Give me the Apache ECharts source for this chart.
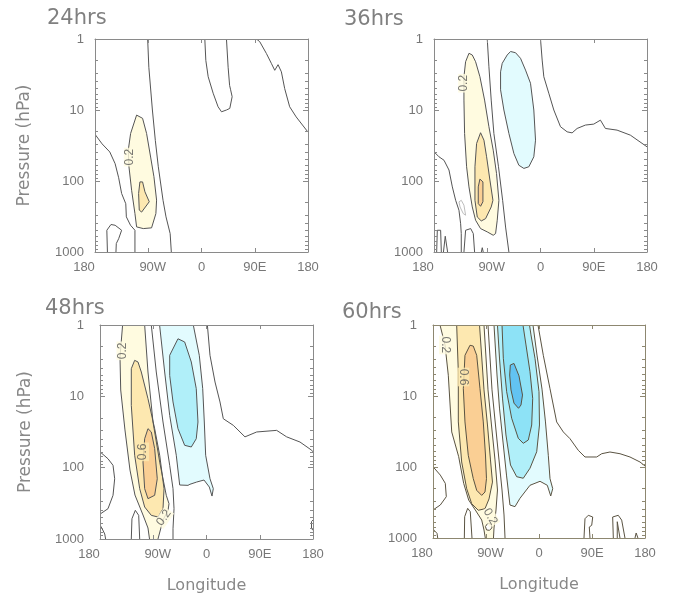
<!DOCTYPE html>
<html><head><meta charset="utf-8">
<script src="https://cdn.jsdelivr.net/npm/echarts@6/dist/echarts.min.js"></script>
<style>html,body{margin:0;padding:0;background:#fff}#c{width:677px;height:597px}</style>
</head><body><div id="c"></div>
<script>
// ---------- axis data ----------
const LON_TICKS = [-180, -90, 0, 90, 180];
const LON_LABELS = ['180', '90W', '0', '90E', '180'];
const P_MAJOR = [1, 10, 100, 1000];
const P_MINOR = [2,3,4,5,6,7,8,9,20,30,40,50,60,70,80,90,200,300,400,500,600,700,800,900];
const TITLES = ['24hrs', '36hrs', '48hrs', '60hrs'];

// ---------- contours: [longitude, pressure hPa] ----------
// 24hrs
const p24_pos2 = [[-109.7,11.8],[-119.8,21.4],[-123.8,36.8],[-122.6,63],[-118.1,135],[-112.5,288],[-109.7,443],[-98.4,468],[-84.4,457],[-77.1,288],[-75.9,186],[-80.4,87],[-86,46],[-92.8,21.4],[-99.6,13.1]];
const p24_pos4 = [[-104.1,103],[-106.3,150],[-105.2,257],[-101.2,274],[-88.3,196],[-95.6,142],[-99.6,103]];
const p24_zero_a = [[-91,1],[-89,2.5],[-83,10],[-78,27],[-73,63],[-65,187],[-60,320],[-53,550],[-51,1000]];
const p24_zero_b = [[-180,22],[-168,30],[-155,39],[-146,57],[-140,90],[-135,150],[-128,209],[-127,320],[-120,420],[-112.5,494],[-112.5,1000]];
const p24_zero_c = [[-159,1000],[-160,494],[-153,410],[-146,420],[-135,494],[-140,650],[-144,760],[-144.6,1000]];
const p24_zero_d = [[5.6,1],[7.3,2],[11.3,3.4],[19.7,5.8],[28,9],[33.8,10.6],[42.2,10],[47.8,9.5],[51.8,6.5],[49,5.1],[47.5,4.5],[45,2.5],[42.2,1]];
const p24_zero_e = [[92.8,1],[98.4,1.09],[109.7,1.6],[118,2.2],[123.8,2.76],[129.4,2.3],[135,2.9],[140.6,5],[149,9],[160,12.5],[180,20.5]];
const p24_labels = [[-121,46,'0.2']];

// 36hrs
const p36_pos2 = [[-120.9,1.59],[-126.6,2.09],[-129.4,3.4],[-129.4,7.25],[-128.3,21.4],[-124.9,63],[-120.9,121],[-115.3,232],[-109.7,357],[-101.3,468],[-90,521],[-79.9,581],[-75.9,550],[-73.1,357],[-70.3,187],[-74.3,78.5],[-79.9,36.8],[-87.2,17.2],[-94.5,7.25],[-102.4,3.4],[-109.7,2.09],[-115.3,1.68]];
const p36_pos4 = [[-101.3,20.9],[-108,29.6],[-110.8,63],[-110.8,187],[-106.9,321],[-100.1,365],[-92.8,339],[-83.3,232],[-80.4,187],[-85.5,97],[-91.1,45.6],[-95.6,26.6]];
const p36_pos6 = [[-102.4,94],[-105.2,121],[-105.2,208],[-101.3,227],[-97.3,196],[-97.3,103]];
const p36_neg2 = [[-67.5,2.9],[-64.7,2.2],[-56.3,1.68],[-50.6,1.5],[-42.2,1.56],[-33.8,1.87],[-25.3,2.74],[-16.9,4.2],[-11.3,10],[-8.4,26.6],[-11.3,45.6],[-19.7,63],[-28.1,66.5],[-36.6,60],[-45,41],[-53.4,21.4],[-61.9,10],[-67.5,5.2]];
const p36_zero_a = [[-90,1],[-87.2,2.46],[-83.3,7.25],[-78.8,21.4],[-71,63],[-64,187],[-59,445],[-53.4,1000]];
const p36_zero_b = [[0,1],[2.8,1.98],[5.6,3.4],[14,5.8],[22.5,10],[33.8,17.2],[45,20.3],[53.4,21],[61.9,18.2],[75.9,16.3],[90,15.8],[101.3,13.9],[109.7,18.2],[129.4,19.2],[151.9,22.6],[180,33]];
const p36_zero_c = [[-180,38.8],[-171.6,45.6],[-163.1,51],[-154.7,70],[-149,121],[-143.4,187],[-137.8,258],[-135,400],[-133.9,550],[-133.9,1000]];
const p36_zero_d = [[-129.4,1000],[-126.6,494],[-118,468],[-113.6,550],[-111.4,1000]];
const p36_zero_e = [[-175.5,1000],[-174.4,494],[-168.8,494],[-167.6,1000]];
const p36_zero_f = [[-164,1000],[-161,600],[-157,1000]];
const p36_zero_g = [[-100,1000],[-98.4,870],[-96.8,1000]];
const p36_gray = [[-137.8,197],[-133.9,187],[-129.4,219],[-126.6,303],[-130.5,288],[-136,232]];
const p36_labels = [[-129,4.2,'0.2']];

// 48hrs
const p48_pos2 = [[-141.8,1],[-146.2,2.81],[-145,8.15],[-137.8,29.6],[-129.3,108],[-120.9,242],[-107.3,461],[-98.9,701],[-96.3,1000],[-82,1000],[-73.5,542],[-65,398],[-63.4,320],[-68,244],[-79.1,83.6],[-90.4,22.9],[-98.9,4.56],[-104.5,1]];
const p48_pos4 = [[-121.4,3.13],[-127.1,4.1],[-127.1,13.4],[-121.4,67],[-112.9,197],[-104.5,356],[-93.3,466],[-82,492],[-73.5,376],[-71.8,197],[-79.1,67],[-87.6,28.4],[-98.9,10.8],[-110.2,4.56],[-115.8,3.3]];
const p48_pos6 = [[-98.9,28.4],[-104.5,39.3],[-107.3,83.4],[-104.5,197],[-98.9,272],[-87.6,244],[-83.2,143],[-87.6,54],[-93.3,31.6]];
const p48_neg2 = [[-79.3,1],[-70.7,4.56],[-62.2,18.5],[-51.1,67],[-45.3,175],[-31.3,177],[-28,171],[-16.6,159],[-4.2,149],[4.8,187],[9.3,250],[11.5,197],[5.9,143],[-1.4,67],[-3.7,22.9],[-6.4,7.8],[-12.2,2.66],[-22.3,1]];
const p48_neg4 = [[-62.2,2.66],[-48.2,1.56],[-36.9,1.73],[-25.7,3.3],[-17.3,7.8],[-14.4,22.9],[-17.3,39.3],[-25.7,51.3],[-36.9,48.6],[-48.2,28.4],[-56.6,12],[-62.2,5.1]];
const p48_zero_a = [[-93.3,1],[-84.9,4.56],[-73.5,22.9],[-62.2,92.7],[-56.6,197],[-54.9,376],[-56.6,718],[-56.6,1000]];
const p48_zero_b = [[1.5,1],[5.9,2.66],[14.4,6.3],[22.8,12],[28.4,20.6],[45.3,25.5],[65,37],[84.8,31.6],[118.6,30],[135.5,37],[158,43.7],[177.8,57],[180,60]];
const p48_zero_c = [[-180,60],[-166.5,75],[-158,92.7],[-155.2,143],[-158,244],[-166.5,376],[-178.9,442],[-180,450]];
const p48_zero_d = [[-180,640],[-177,700],[-172,850],[-170.5,1000]];
const p48_zero_e = [[-127.1,1000],[-126,520],[-120.3,396],[-114.6,466],[-112.9,1000]];
const p48_zero_f = [[180,540],[177.5,570],[177.5,720],[180,750]];
const p48_labels = [[-142,2.3,'0.2'],[-107.3,60,'0.6'],[-72,505,'0.2']];

// 60hrs
const p60_pos2 = [[-168.1,1],[-159.6,1.91],[-154,5.1],[-148.2,32.1],[-136.4,71.6],[-127.9,170],[-119.4,292],[-108.2,403],[-97.3,558],[-93.4,771],[-91.2,1000],[-77.3,1000],[-76.4,723],[-73,403],[-70.5,211],[-74.7,79.6],[-80.7,25.6],[-86.6,8.2],[-93.4,1]];
const p60_pos4 = [[-139.8,1],[-137,4.6],[-137,23.2],[-131.3,85],[-122.8,202],[-114.3,329],[-103.1,407],[-91.7,387],[-84.9,282],[-79,163],[-82.4,79.6],[-87.5,25.6],[-93.4,8.2],[-101,1]];
const p60_pos6 = [[-117.2,1.93],[-125.7,2.67],[-128.5,7.9],[-125.7,23.2],[-120.1,68.4],[-111.6,146],[-105.8,213],[-97.3,251],[-91.7,225],[-89.2,146],[-90.9,67.8],[-94.6,23.2],[-100.2,7.9],[-105.8,2.67],[-111.6,1.98]];
const p60_hole = [[-91,690],[-87,620],[-81,640],[-80,720],[-84,780],[-89,770]];
const p60_neg2 = [[-76.4,1],[-71.3,5.06],[-67.1,14.8],[-61.1,44.5],[-55.2,130],[-49.3,343],[-40.8,362],[-32.3,276],[-15.3,181],[1.7,159],[14.1,181],[19.9,256],[23.3,202],[18.7,146],[15.8,68.4],[11,23.2],[5.1,8],[-3.4,2.65],[-10.2,1]];
const p60_neg4 = [[-70.5,1],[-67.1,2.92],[-62,10.7],[-56.1,35.4],[-48.4,93.7],[-37.9,137],[-26.7,144],[-15.3,104],[-3.9,61],[0.8,25.6],[0,8.7],[-6.8,2.94],[-13.6,1.38],[-16.1,1]];
const p60_neg6 = [[-62.8,1],[-60.6,2.94],[-54.9,8.7],[-46.4,20.6],[-35.2,39.4],[-26.7,46.4],[-18.2,41.7],[-12.4,25.6],[-10.7,10.8],[-15.3,4.55],[-22.1,1.91],[-27.2,1]];
const p60_neg8 = [[-48.7,3.66],[-42.5,3.48],[-34,5.2],[-28,9.7],[-30.6,13.4],[-34.8,14.9],[-42.5,12.6],[-47.6,8.2],[-49.8,5.06]];
const p60_zero_a = [[-86.6,1],[-79.8,8.2],[-73.9,25.6],[-67.9,79.6],[-62.8,211],[-59.4,474],[-57.7,1000]];
const p60_zero_b = [[-1.7,1],[7.3,2.67],[18.7,7.9],[30,23.2],[41.3,32.1],[52.6,39.9],[66.7,58.2],[78.1,72.3],[98,72.3],[106.5,65],[120.5,61.5],[137.5,65],[154.5,72.3],[171.5,85],[180,96.8]];
const p60_zero_c = [[-180,99],[-167.6,130],[-159.1,170],[-157.4,262],[-167.6,343],[-180,403]];
const p60_zero_d = [[-180,710],[-178.8,771],[-173.2,859],[-172,1000]];
const p60_zero_e = [[-126.8,1000],[-126.2,501],[-121.1,382],[-116.7,426],[-113.8,1000]];
const p60_zero_f = [[76.4,1000],[78.1,535],[83.7,479],[91.2,506],[89.5,662],[85.4,700],[86.6,1000]];
const p60_zero_g = [[126.2,1000],[125.1,506],[134.6,479],[140.4,560],[146,1000]];
const p60_zero_h = [[132.9,1000],[132.9,590],[137.5,1000]];
const p60_zero_i = [[163,1000],[165,850],[168,1000]];
const p60_labels = [[-159.6,1.91,'0.2'],[-128.5,5.4,'0.6'],[-82.7,500,'0.2']];

// ---------- styles ----------
const COL = {p2:'#FFFBE0', p4:'#FDE8B0', p6:'#FACF94', n2:'#E2FBFE', n4:'#B0EFF9', n6:'#8DE2F6', n8:'#62C3F2', hole:'#FFFFFF'};
const LINE = ['#555555','#555555','#555555','#5a5342'];
const FRAME = ['#8a8a8a','#8a8a8a','#8a8a8a','#8d8770'];
const GRIDS = [
  {left:95, top:39, width:213, height:213},
  {left:434, top:39, width:213, height:213},
  {left:100, top:325, width:213, height:214},
  {left:433, top:325, width:212, height:213}
];
const TITLE_POS = [[47,8],[344,9],[45,298],[342,302]];
const LABEL_ROT = [[90],[90],[90,90,55],[-90,-90,-60]];
const LABEL_BG = [[COL.p2],[COL.p2],[COL.p2,COL.p4,COL.p2],[COL.p2,COL.p4,COL.p2]];

const PANELS = [
  {contours:[
    {pts:p24_pos2, fill:COL.p2, closed:true},
    {pts:p24_pos4, fill:COL.p4, closed:true},
    {pts:p24_zero_a},{pts:p24_zero_b},{pts:p24_zero_c},{pts:p24_zero_d},{pts:p24_zero_e}
  ], labels:p24_labels},
  {contours:[
    {pts:p36_pos2, fill:COL.p2, closed:true},
    {pts:p36_pos4, fill:COL.p4, closed:true},
    {pts:p36_pos6, fill:COL.p6, closed:true},
    {pts:p36_neg2, fill:COL.n2, closed:true},
    {pts:p36_zero_a},{pts:p36_zero_b},{pts:p36_zero_c},{pts:p36_zero_d},{pts:p36_zero_e},{pts:p36_zero_f},{pts:p36_zero_g},
    {pts:p36_gray, closed:true, stroke:'#bdbdbd'}
  ], labels:p36_labels},
  {contours:[
    {pts:p48_pos2, fill:COL.p2, closed:true},
    {pts:p48_pos4, fill:COL.p4, closed:true},
    {pts:p48_pos6, fill:COL.p6, closed:true},
    {pts:p48_neg2, fill:COL.n2, closed:true},
    {pts:p48_neg4, fill:COL.n4, closed:true},
    {pts:p48_zero_a},{pts:p48_zero_b},{pts:p48_zero_c},{pts:p48_zero_d},{pts:p48_zero_e},{pts:p48_zero_f}
  ], labels:p48_labels},
  {contours:[
    {pts:p60_pos2, fill:COL.p2, closed:true},
    {pts:p60_pos4, fill:COL.p4, closed:true},
    {pts:p60_pos6, fill:COL.p6, closed:true},
    {pts:p60_hole, fill:COL.hole, closed:true},
    {pts:p60_neg2, fill:COL.n2, closed:true},
    {pts:p60_neg4, fill:COL.n4, closed:true},
    {pts:p60_neg6, fill:COL.n6, closed:true},
    {pts:p60_neg8, fill:COL.n8, closed:true},
    {pts:p60_zero_a},{pts:p60_zero_b},{pts:p60_zero_c},{pts:p60_zero_d},{pts:p60_zero_e},
    {pts:p60_zero_f},{pts:p60_zero_g},{pts:p60_zero_h},{pts:p60_zero_i}
  ], labels:p60_labels}
];

// ---------- helpers ----------
function edgesOf(p){
  const e = [];
  if (p[0] <= -180) e.push('L');
  if (p[0] >= 180) e.push('R');
  if (p[1] <= 1) e.push('T');
  if (p[1] >= 1000) e.push('B');
  return e;
}
function strokeRuns(pts, closed){
  const n = pts.length, runs = [];
  let cur = [0];
  const m = closed ? n : n - 1;
  for (let k = 0; k < m; k++){
    const a = pts[k], bi = (k + 1) % n, b = pts[bi];
    const ea = edgesOf(a), eb = edgesOf(b);
    const share = ea.some(x => eb.indexOf(x) >= 0);
    if (share){ if (cur.length > 1) runs.push(cur); cur = [bi]; }
    else cur.push(bi);
  }
  if (cur.length > 1) runs.push(cur);
  return runs;
}

const FONT = 'Liberation Sans';
const series = [];
PANELS.forEach((panel, i) => {
  const xi = 2*i, yi = 4*i;
  panel.contours.forEach(ct => {
    const pts = ct.pts;
    if (ct.fill){
      series.push({
        type:'custom', coordinateSystem:'cartesian2d', xAxisIndex:xi, yAxisIndex:yi,
        clip:true, silent:true, z:1, data:pts, encode:{x:0,y:1},
        renderItem(params, api){
          if (params.dataIndex !== 0) return null;
          return {type:'polygon', shape:{points:pts.map(p => api.coord(p))}, style:{fill:ct.fill, stroke:'none'}};
        }
      });
    }
    const runs = strokeRuns(pts, !!ct.closed);
    const stroke = ct.stroke || LINE[i];
    series.push({
      type:'custom', coordinateSystem:'cartesian2d', xAxisIndex:xi, yAxisIndex:yi,
      clip:true, silent:true, z:2, data:pts, encode:{x:0,y:1},
      renderItem(params, api){
        if (params.dataIndex !== 0) return null;
        return {type:'group', children: runs.map(r => ({
          type:'polyline', shape:{points:r.map(k => api.coord(pts[k]))},
          style:{fill:'none', stroke:stroke, lineWidth:1}
        }))};
      }
    });
  });
  series.push({
    type:'scatter', xAxisIndex:xi, yAxisIndex:yi, symbolSize:0, z:3, silent:true,
    data: panel.labels.map((l, k) => ({value:[l[0], l[1]], label:{rotate:LABEL_ROT[i][k], backgroundColor:LABEL_BG[i][k]}})),
    label:{show:true, position:'inside', formatter:p => panel.labels[p.dataIndex][2],
      fontSize:12, color:'#555', fontFamily:FONT, padding:[0,1]}
  });
});

const xAxis = [], yAxis = [];
GRIDS.forEach((g, i) => {
  const fc = FRAME[i];
  const bottom = {
    gridIndex:i, type:'value', min:-180, max:180, interval:90, position:'bottom', z:5,
    axisLine:{show:true, onZero:false, lineStyle:{color:fc, width:1}},
    axisTick:{show:true, inside:true, length:4, lineStyle:{color:fc}},
    splitLine:{show:false},
    axisLabel:{show:true, margin:9, color:'#777', fontSize:13, fontFamily:FONT, showMinLabel:true, showMaxLabel:true,
      formatter:v => { const k = LON_TICKS.indexOf(v); const s = LON_LABELS[k];
        if (k === 0) return '{a|' + s + '}'; if (k === 1) return '{b|' + s + '}'; return s; },
      rich:{a:{padding:[0,22,0,0], color:'#777', fontSize:13, fontFamily:FONT}, b:{padding:[0,0,0,9], color:'#777', fontSize:13, fontFamily:FONT}}}
  };
  if (i >= 2){
    Object.assign(bottom, {name:'Longitude', nameLocation:'middle', nameGap:39,
      nameTextStyle:{fontSize:16, color:'#888', fontFamily:'DejaVu Sans'}});
  }
  xAxis.push(bottom);
  xAxis.push({gridIndex:i, type:'value', min:-180, max:180, interval:90, position:'top', z:5,
    axisLine:{show:true, onZero:false, lineStyle:{color:fc, width:1}},
    axisTick:{show:true, inside:true, length:4, lineStyle:{color:fc}},
    splitLine:{show:false}, axisLabel:{show:false}});
  const baseY = (pos, major, labels) => ({
    gridIndex:i, type:'log', logBase:10, min:1, max:1000, inverse:true, position:pos, z:5,
    axisLine:{show:major, onZero:false, lineStyle:{color:fc, width:1}},
    axisTick:{show:true, inside:true, length:major ? 5 : 3, customValues: major ? P_MAJOR : P_MINOR, lineStyle:{color:fc}},
    splitLine:{show:false}, minorTick:{show:false},
    axisLabel:{show:labels, customValues:P_MAJOR, margin:(i === 0 || i === 1) ? 11 : 16, color:'#777', fontSize:13, fontFamily:FONT,
      formatter:v => String(Math.round(v))}
  });
  const left = baseY('left', true, true);
  if (i === 0 || i === 2){
    Object.assign(left, {name:'Pressure (hPa)', nameLocation:'middle', nameGap:(i === 0 ? 62 : 66),
      nameTextStyle:{fontSize:17, color:'#888', fontFamily:'DejaVu Sans'}});
  }
  yAxis.push(left);
  yAxis.push(baseY('right', true, false));
  yAxis.push(baseY('left', false, false));
  yAxis.push(baseY('right', false, false));
});

const option = {
  animation:false,
  backgroundColor:'#ffffff',
  title: TITLES.map((t, i) => ({text:t, left:TITLE_POS[i][0], top:TITLE_POS[i][1], padding:0,
    textStyle:{fontSize:21, fontWeight:'normal', color:'#808080', fontFamily:'DejaVu Sans'}})),
  grid: GRIDS.map(g => Object.assign({show:false, containLabel:false}, g)),
  xAxis, yAxis, series
};
const chart = echarts.init(document.getElementById('c'), null, {renderer:'canvas'});
chart.setOption(option);
</script></body></html>
